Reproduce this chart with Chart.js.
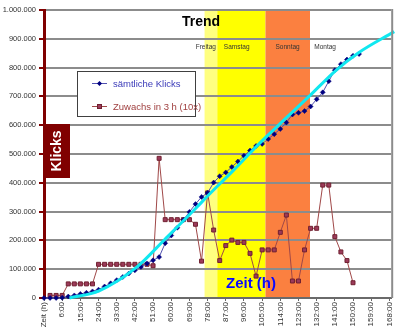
<!DOCTYPE html>
<html><head><meta charset="utf-8">
<script src="https://cdn.jsdelivr.net/npm/chart.js@4.4.1/dist/chart.umd.min.js"></script>
<style>html,body{margin:0;padding:0;background:#fff;}#wrap{width:400px;height:330px;position:relative;}</style>
</head><body><div id="wrap"><canvas id="c" width="400" height="330"></canvas></div>
<script>
// ---- data ----
const categories = ["Zeit (h)","0:00","3:00","6:00","9:00","12:00","15:00","18:00","21:00","24:00","27:00","30:00","33:00","36:00","39:00","42:00","45:00","48:00","51:00","54:00","57:00","60:00","63:00","66:00","69:00","72:00","75:00","78:00","81:00","84:00","87:00","90:00","93:00","96:00","99:00","102:00","105:00","108:00","111:00","114:00","117:00","120:00","123:00","126:00","129:00","132:00","135:00","138:00","141:00","144:00","147:00","150:00","153:00","156:00","159:00","162:00","165:00","168:00"];
const tickLabels = ["Zeit (h)","6:00","15:00","24:00","33:00","42:00","51:00","60:00","69:00","78:00","87:00","96:00","105:00","114:00","123:00","132:00","141:00","150:00","159:00","168:00"];
const yTicks = [0,100000,200000,300000,400000,500000,600000,700000,800000,900000,1000000];
const klicks = [0,0,0,1000,5000,9000,14000,18000,23000,29000,40000,51000,62000,73000,85000,96000,108000,120000,131000,142000,190000,217000,244000,271000,299000,326000,351000,365000,401000,423000,436000,455000,474000,494000,512000,528000,535000,552000,569000,587000,609000,637000,643000,649000,665000,690000,714000,753000,791000,812000,828000,841000,847000];
const zuwachs = [null,9000,9000,9000,49000,49000,49000,49000,49000,117000,117000,117000,117000,117000,117000,117000,117000,117000,112000,485000,272000,272000,272000,272000,272000,256000,128000,365000,236000,130000,182000,201000,193000,193000,155000,76000,167000,167000,167000,228000,288000,59000,59000,167000,242000,242000,392000,392000,213000,160000,130000,53000];
// trend line (category position, value)
const trendPos = [4.2,9.1,15.3,20,25.3,27,31.3,35.1,38.8,43.7,48.1,51.8,57.8];
const trendVal = [0,25000,107000,205000,317000,354000,444000,527000,602000,699000,789000,850000,925000];
// day bands (category positions)
const bandNames = ["Freitag","Samstag","Sonntag","Montag"];
const bandStart = [26.5,28.6,36.55];
const bandEnd = [28.6,36.55,43.9];
const seriesNames = ["sämtliche Klicks","Zuwachs in 3 h (10x)"];

// ---- styles/layout ----
const FONT = "'Liberation Sans', Arial, sans-serif";
const bandColors = ["#ffff80","#ffff00","#fb8040"];
const dayLabelPos = [26.7,31.8,40.2,46.4];

function fmt(v){ return String(v).replace(/\B(?=(\d{3})+(?!\d))/g,"."); }

const decor = {
  id:'decor',
  beforeDraw(chart){
    const {ctx, chartArea:a, scales:{x}} = chart;
    ctx.save();
    ctx.fillStyle='#fff'; ctx.fillRect(0,0,chart.width,chart.height);
    for(let k=0;k<bandStart.length;k++){
      const x1=x.getPixelForValue(bandStart[k]), x2=x.getPixelForValue(bandEnd[k]);
      ctx.fillStyle=bandColors[k];
      ctx.fillRect(x1,a.top,x2-x1,a.bottom-a.top);
    }
    ctx.restore();
  },
  afterDraw(chart){
    const {ctx, chartArea:a, scales:{x}} = chart;
    ctx.save();
    // right border
    ctx.strokeStyle='#8c8c8c'; ctx.lineWidth=2;
    ctx.beginPath(); ctx.moveTo(a.right+1,a.top-1); ctx.lineTo(a.right+1,a.bottom); ctx.stroke();
    // Title
    ctx.fillStyle='#000'; ctx.font="bold 14px "+FONT; ctx.textAlign='center'; ctx.textBaseline='alphabetic';
    ctx.fillText("Trend",201,26);
    // day labels
    ctx.font="6.5px "+FONT; ctx.fillStyle='#333';
    for(let k=0;k<bandNames.length;k++){ ctx.fillText(bandNames[k], x.getPixelForValue(dayLabelPos[k]), 49); }
    // Zeit (h)
    ctx.font="bold 15px "+FONT; ctx.fillStyle='#0a0aff';
    ctx.fillText("Zeit (h)",251,288);
    // Klicks box
    ctx.fillStyle='#800000'; ctx.fillRect(43,124,27,54);
    ctx.save(); ctx.translate(57,151); ctx.rotate(-Math.PI/2);
    ctx.fillStyle='#fff'; ctx.font="bold 14px "+FONT; ctx.textAlign='center'; ctx.textBaseline='middle';
    ctx.fillText("Klicks",0,0); ctx.restore();
    // legend
    ctx.fillStyle='#fff'; ctx.fillRect(77.5,71.5,118,45);
    ctx.strokeStyle='#404040'; ctx.lineWidth=1; ctx.strokeRect(77.5,71.5,118,45);
    ctx.textAlign='left'; ctx.textBaseline='middle'; ctx.font="9.5px "+FONT;
    // entry 1
    ctx.strokeStyle='#5050b0'; ctx.beginPath(); ctx.moveTo(92,83.5); ctx.lineTo(107,83.5); ctx.stroke();
    ctx.fillStyle='#000080'; ctx.beginPath(); ctx.moveTo(99.5,81); ctx.lineTo(102,83.5); ctx.lineTo(99.5,86); ctx.lineTo(97,83.5); ctx.closePath(); ctx.fill();
    ctx.fillStyle='#3a3ab8'; ctx.fillText(seriesNames[0],113,84);
    // entry 2
    ctx.strokeStyle='#a04848'; ctx.beginPath(); ctx.moveTo(92,106.5); ctx.lineTo(107,106.5); ctx.stroke();
    ctx.fillStyle='#9c3a5a'; ctx.fillRect(97.5,104.5,4,4); ctx.strokeStyle='#702030'; ctx.strokeRect(97.5,104.5,4,4);
    ctx.fillStyle='#a04040'; ctx.fillText(seriesNames[1],113,107);
    ctx.restore();
  }
};

new Chart(document.getElementById('c'),{
  type:'line',
  data:{datasets:[
    {label:'Trend', data: trendPos.map((p,i)=>({x:p,y:trendVal[i]})), borderColor:'#10e8f0', borderWidth:3, pointRadius:0, cubicInterpolationMode:'monotone', clip:false, order:0},
    {label:seriesNames[0], data: klicks.map((v,i)=>({x:i,y:v})), borderColor:'#5050b0', borderWidth:1, pointStyle:'rectRot', pointRadius:2.5, pointBackgroundColor:'#000080', pointBorderColor:'#000080', pointBorderWidth:0.5, clip:false, order:1},
    {label:seriesNames[1], data: zuwachs.map((v,i)=>({x:i,y:v})), borderColor:'#a04848', borderWidth:1, pointStyle:'rect', pointRadius:2.8, pointBackgroundColor:'#9c3a5a', pointBorderColor:'#702030', pointBorderWidth:1, spanGaps:false, clip:false, order:2}
  ]},
  options:{
    responsive:false, animation:false, devicePixelRatio:1,
    layout:{padding:{top:10,right:3,left:0,bottom:0}},
    plugins:{legend:{display:false}, tooltip:{enabled:false}},
    scales:{
      x:{type:'linear', min:0, max:57.3,
        afterBuildTicks(s){ s.ticks = tickLabels.map(l=>({value:categories.indexOf(l)})); },
        afterFit(s){ s.height=32; },
        ticks:{autoSkip:false, minRotation:90, maxRotation:90, padding:1, color:'#333', font:{size:8,family:FONT}, callback:(v)=>categories[v]},
        grid:{drawOnChartArea:false, drawTicks:true, tickLength:3, color:'#666'},
        border:{color:'#6a6a6a', width:2}
      },
      y:{min:0, max:1000000,
        afterBuildTicks(s){ s.ticks = yTicks.map(v=>({value:v})); },
        afterFit(s){ s.width=44; },
        ticks:{padding:3, color:'#333', font:{size:7.5,family:FONT}, callback:(v)=>fmt(v)},
        grid:{color:'#8c8c8c', lineWidth:2, tickColor:'#800000', tickLength:5, tickWidth:2},
        border:{color:'#800000', width:3}
      }
    }
  },
  plugins:[decor]
});
</script></body></html>
